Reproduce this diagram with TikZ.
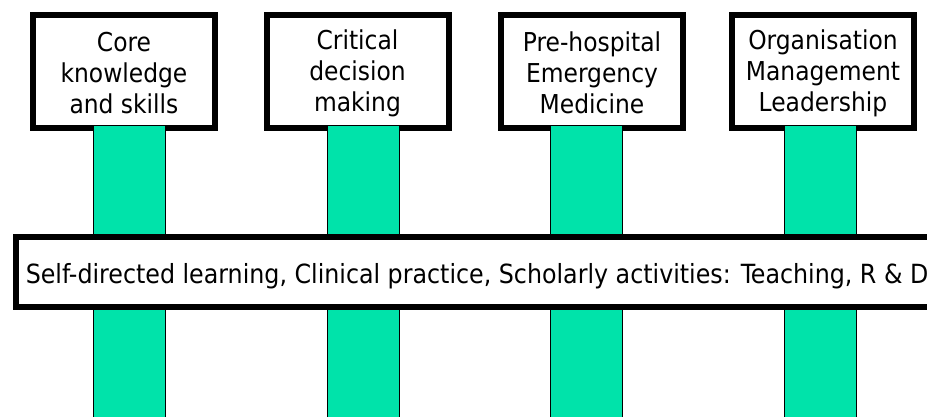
\documentclass[tikz,border=0pt]{standalone}
\usepackage{fontspec}
\setmainfont{DejaVu Sans Condensed}
\definecolor{pillargreen}{RGB}{0,227,170}
\newcommand{\linestrut}{\rule[-3pt]{0pt}{27pt}}

\begin{document}
\begin{tikzpicture}[x=1pt, y=-1pt,
    topic/.style = {draw, line width=6pt, fill=white, minimum width=182pt, minimum height=113pt, align=center, font=\fontsize{26}{31}\selectfont},
    pillar/.style = {draw, line width=0.8pt, fill=pillargreen, minimum width=72pt, minimum height=310pt, anchor=north, inner sep=0pt},
    band/.style = {draw, line width=5.5pt, fill=white, minimum height=70pt, anchor=west, inner xsep=10pt, text height=22pt, text depth=0pt, font=\fontsize{26.4}{30}\selectfont}]

	\clip (0,0) rectangle (927,416);

	\node[topic] (core) at (124,71.5) {\linestrut Core\\knowledge\\and skills\linestrut};
	\node[topic] (critical) at (357.5,71.5) {\linestrut Critical\\decision\\making\linestrut};
	\node[topic] (prehosp) at (592,71.5) {\linestrut Pre-hospital\\Emergency\\Medicine\linestrut};
	\node[topic] (organis) at (823,71.5) {\linestrut Organisation\\Management\\Leadership\linestrut};

	\node[pillar] (p1) at (129,125) {};
	\node[pillar] (p2) at (363,125) {};
	\node[pillar] (p3) at (586.5,125) {};
	\node[pillar] (p4) at (820.5,125) {};

	\node[band] (learning) at (13,272) {Self-directed learning, Clinical practice, Scholarly activities: Teaching, R \& D};
\end{tikzpicture}
\end{document}
